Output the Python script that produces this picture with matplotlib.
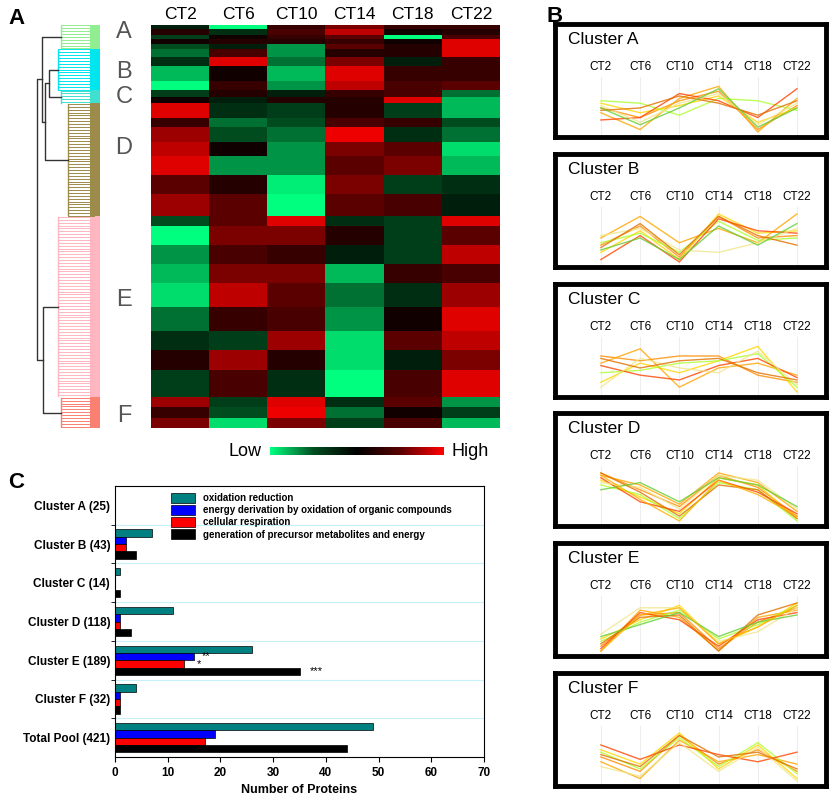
import numpy as np
import matplotlib
matplotlib.use("Agg")
import matplotlib.pyplot as plt
from matplotlib.colors import LinearSegmentedColormap

plt.rcParams['font.family'] = ['Liberation Sans', 'DejaVu Sans']

times = ["CT2", "CT6", "CT10", "CT14", "CT18", "CT22"]
cluster_names = ["A", "B", "C", "D", "E", "F"]
cluster_sizes = [25, 43, 14, 118, 189, 32]

# heatmap segments: (rows, values CT2..CT22)
heat_A = [(4, [-0.2, -1, 0.3, 0.6, 0.3, 0.3]), (6, [0.2, -0.3, 0.4, 0.8, 0.1, 0.2]),
          (5, [-0.4, 0.1, 0.3, 0.5, -1, 0.4]), (5, [0.1, 0.2, 0.2, 0.3, 0.1, 0.9]),
          (5, [-0.5, -0.2, -0.7, 0.5, 0.2, 0.9])]
heat_B = [(8, [-0.6, 0.4, -0.7, 0.2, 0.2, 0.9]), (10, [-0.3, 0.9, -0.6, 0.6, -0.2, 0.3]),
          (15, [-0.8, 0.1, -0.8, 0.9, 0.3, 0.3]), (10, [-1, 0.3, -0.7, 0.8, 0.4, 0.5])]
heat_C = [(7, [-0.4, 0.2, -0.2, 0.3, 0.4, -0.6]), (7, [0.1, -0.2, 0.2, 0.2, 0.9, -0.8])]
heat_D = [(15, [0.9, -0.3, -0.4, 0.2, -0.4, -0.8]), (10, [0.3, -0.6, -0.5, 0.4, 0.3, -0.5]),
          (15, [0.7, -0.5, -0.6, 0.95, -0.3, -0.6]), (15, [0.8, 0.1, -0.7, 0.6, 0.5, -0.9]),
          (20, [0.9, -0.7, -0.7, 0.5, 0.6, -0.8]), (20, [0.5, 0.2, -0.95, 0.6, -0.4, -0.3]),
          (23, [0.7, 0.5, -1, 0.5, 0.4, -0.2])]
heat_E = [(10, [-0.5, 0.5, 0.9, -0.3, -0.4, 0.9]), (20, [-1, 0.6, 0.6, 0.2, -0.4, 0.5]),
          (20, [-0.7, 0.4, 0.3, -0.2, -0.4, 0.8]), (20, [-0.8, 0.6, 0.6, -0.8, 0.3, 0.4]),
          (25, [-0.9, 0.8, 0.5, -0.6, -0.3, 0.7]), (25, [-0.6, 0.3, 0.4, -0.7, 0.1, 0.9]),
          (20, [-0.3, -0.4, 0.7, -0.9, 0.5, 0.8]), (20, [0.2, 0.7, 0.2, -0.9, -0.2, 0.6]),
          (29, [-0.4, 0.4, -0.3, -1, 0.4, 0.9])]
heat_F = [(10, [0.7, -0.4, 0.9, -0.3, 0.5, -0.7]), (12, [0.3, -0.5, 0.95, -0.6, 0.1, -0.4]),
          (10, [0.6, -0.9, 0.6, -0.4, 0.4, -0.8])]
heat_segments = [heat_A, heat_B, heat_C, heat_D, heat_E, heat_F]
dend_colors = ["#90ee90", "#00e5ee", "#40e0d0", "#9c8b4a", "#ffb6c1", "#fa8072"]

# profile lines for panel B
prof_A = [[0.0, -0.4, 0.3, 0.7, -0.9, 0.1], [0.2, -0.2, 0.1, 0.5, -0.6, 0.0], [-0.2, -0.9, 0.4, 0.9, -1.0, 0.4],
          [0.3, 0.2, -0.3, 0.4, 0.3, -0.1], [-0.5, -0.4, 0.6, 0.3, -0.4, 0.8], [0.1, -0.6, 0.2, 0.6, -0.7, 0.2],
          [-0.1, 0.0, 0.5, 0.2, -0.3, 0.3], [0.0, -0.7, 0.0, 0.8, -0.8, 0.0]]
prof_B = [[-0.3, 0.5, -0.8, 0.9, 0.0, 0.1], [-0.6, 0.3, -0.9, 1.0, 0.2, 0.3], [0.0, 0.9, -0.2, 0.4, -0.2, 1.0],
          [-0.2, 0.2, -0.6, 0.7, -0.1, 0.0], [-0.9, 0.1, -1.0, 0.8, 0.3, 0.2], [0.1, 0.4, -0.5, -0.6, -0.2, 0.4],
          [-0.4, 0.6, -0.7, 0.9, 0.1, -0.3], [-0.5, 0.0, -0.9, 0.5, -0.3, 0.6]]
prof_C = [[0.5, 0.3, 0.5, 0.5, -0.3, -0.6], [-0.6, 0.2, -0.2, 0.3, 0.9, -1.0], [0.2, 0.8, -0.8, 0.0, 0.2, -0.3],
          [-0.2, -0.1, 0.2, 0.3, 0.6, -0.8], [0.1, -0.3, -0.5, 0.1, 0.4, -0.4], [-0.8, 0.4, 0.0, -0.2, 0.7, -0.7],
          [0.4, 0.0, 0.3, 0.4, -0.2, -0.5]]
prof_D = [[1.0, 0.3, -0.4, 0.9, 0.4, -0.8], [0.7, 0.0, -0.7, 0.8, 0.5, -0.9], [0.9, 0.5, -0.3, 1.0, 0.6, -0.6],
          [0.5, 0.1, -0.9, 0.6, 0.3, -1.0], [0.8, -0.2, -0.6, 0.7, 0.2, -0.7], [0.6, 0.4, -0.5, 0.9, 0.7, -0.5],
          [1.0, 0.2, -0.8, 0.5, 0.3, -0.9], [0.3, 0.6, -0.2, 0.8, 0.5, -0.4], [0.9, -0.1, -1.0, 0.7, 0.1, -0.8]]
prof_E = [[-0.8, 0.5, 0.6, -0.9, 0.2, 0.8], [-0.5, 0.3, 0.9, -0.7, 0.0, 1.0], [-1.0, 0.7, 0.4, -1.0, 0.4, 0.7],
          [-0.6, 0.2, 0.7, -0.5, 0.1, 0.9], [-0.9, 0.6, 0.3, -0.8, 0.3, 0.6], [-0.3, 0.8, 0.8, -0.6, -0.2, 0.8],
          [-0.7, 0.4, 0.5, -1.0, 0.5, 1.0], [-0.4, 0.1, 0.6, -0.4, 0.2, 0.5], [-1.0, 0.5, 0.8, -0.7, 0.0, 0.9]]
prof_F = [[0.0, -0.6, 0.9, -0.3, 0.3, -0.6], [0.3, -0.3, 1.0, -0.5, 0.5, -0.9], [-0.2, -0.9, 0.7, -0.2, 0.1, -0.3],
          [0.2, -0.5, 0.8, -0.4, 0.6, -0.7], [0.5, -0.1, 0.5, 0.1, -0.2, 0.2], [-0.4, -0.8, 0.6, -0.6, 0.4, -1.0],
          [0.1, -0.4, 0.9, 0.0, 0.2, -0.5]]
profiles = [prof_A, prof_B, prof_C, prof_D, prof_E, prof_F]
line_colors = ["#ff8c00", "#ffd700", "#ffa500", "#adff2f", "#ff4500", "#f0e68c", "#e07000", "#66cc33", "#ffb000"]

# panel C data
bar_categories = ["Cluster A (25)", "Cluster B (43)", "Cluster C (14)", "Cluster D (118)",
                  "Cluster E (189)", "Cluster F (32)", "Total Pool (421)"]
oxidation_reduction = [0, 7, 1, 11, 26, 4, 49]
energy_derivation = [0, 2, 0, 1, 15, 1, 19]
cellular_respiration = [0, 2, 0, 1, 13, 1, 17]
precursor_generation = [0, 4, 1, 3, 35, 1, 44]
series_names = ["oxidation reduction", "energy derivation by oxidation of organic compounds",
                "cellular respiration", "generation of precursor metabolites and energy"]
series_colors = ["#008080", "#0000ff", "#ff0000", "#000000"]

W, H = 832, 800
fig = plt.figure(figsize=(8.32, 8.0), dpi=100)


def fax(x0, y0, x1, y1):
    return fig.add_axes([x0 / W, 1 - y1 / H, (x1 - x0) / W, (y1 - y0) / H])


# ---- Panel A heatmap ----
rows = []
for segs in heat_segments:
    for n, vals in segs:
        for _ in range(n):
            rows.append(vals)
mat = np.array(rows)
cmap = LinearSegmentedColormap.from_list("gr", ["#00ff7f", "#004d20", "#000000", "#5a0000", "#ff0000"])
axh = fax(151, 25, 500, 428)
axh.imshow(mat, aspect="auto", cmap=cmap, vmin=-1, vmax=1, interpolation="nearest")
axh.set_xticks(range(6))
axh.set_xticklabels(times, fontsize=12.5)
axh.xaxis.tick_top()
axh.tick_params(length=0, pad=2)
axh.set_yticks([])
for s in axh.spines.values():
    s.set_visible(False)

# dendrogram (simplified)
axd = fax(35, 25, 100, 428)
axd.set_xlim(0, 100)
axd.set_ylim(len(rows), 0)
axd.axis("off")
starts = np.cumsum([0] + cluster_sizes[:-1])
branch_x = [30, 25, 30, 40, 25, 30]
mids = []
for i, (st, sz) in enumerate(zip(starts, cluster_sizes)):
    c = dend_colors[i]
    axd.add_patch(plt.Rectangle((85, st), 15, sz, color=c, lw=0))
    bx = branch_x[i] + 10
    axd.plot([bx, bx], [st + 1, st + sz - 1], color=c, lw=1)
    for r in range(0, sz, 3):
        axd.plot([bx, 85 + (r % 2) * 5], [st + r + 0.5, st + r + 0.5], color=c, lw=0.7)
    mids.append(st + sz / 2)


def link(y1, y2, x, xa, xb):
    axd.plot([xa, x, x, xb], [y1, y1, y2, y2], color="#333333", lw=1)


link(mids[1], mids[2], 22, branch_x[1] + 10, branch_x[2] + 10)
m12 = (mids[1] + mids[2]) / 2
link(m12, mids[3], 15, 22, branch_x[3] + 10)
m123 = (m12 + mids[3]) / 2
link(mids[0], m123, 10, branch_x[0] + 10, 15)
mtop = (mids[0] + m123) / 2
link(mids[4], mids[5], 12, branch_x[4] + 10, branch_x[5] + 10)
mbot = (mids[4] + mids[5]) / 2
link(mtop, mbot, 3, 10, 12)

label_y = [32, 72, 97, 148, 300, 416]
for name, yy in zip(cluster_names, label_y):
    fig.text(124 / W, 1 - yy / H, name, fontsize=17, color="#555555", ha="center", va="center")

# colorbar
axc = fax(270, 447, 444, 455)
axc.imshow(np.linspace(-1, 1, 200)[None, :], aspect="auto", cmap=cmap)
axc.axis("off")
fig.text(262 / W, 1 - 451 / H, "Low", fontsize=13, ha="right", va="center")
fig.text(452 / W, 1 - 451 / H, "High", fontsize=13, ha="left", va="center")

fig.text(8 / W, 1 - 18 / H, "A", fontsize=16, fontweight="bold", va="center")
fig.text(546 / W, 1 - 16 / H, "B", fontsize=16, fontweight="bold", va="center")
fig.text(8 / W, 1 - 482 / H, "C", fontsize=16, fontweight="bold", va="center")

# ---- Panel B ----
box_tops = [24, 154, 284, 413, 543, 673]
for i, (bt, prof) in enumerate(zip(box_tops, profiles)):
    ax = fax(555, bt, 826, bt + 113)
    ax.set_xlim(-1.17, 5.74)
    ax.set_ylim(-1.21, 3.5)
    ax.set_xticks([]); ax.set_yticks([])
    for s in ax.spines.values():
        s.set_linewidth(3.5)
    for k in range(6):
        ax.plot([k, k], [-1.2, 1.3], color="#eeeeee", lw=0.8)
        ax.text(k, 1.71, times[k], fontsize=8.5, ha="center", va="center")
    for j, p in enumerate(prof):
        ax.plot(range(6), p, color=line_colors[j % len(line_colors)], lw=1.0, alpha=0.8)
    ax.text(-0.85, 2.85, "Cluster " + cluster_names[i], fontsize=12.5, va="center")

# ---- Panel C ----
axb = fax(115, 486, 484, 757)
n = len(bar_categories)
y = np.arange(n)
bh = 0.19
vals = [oxidation_reduction, energy_derivation, cellular_respiration, precursor_generation]
for k, (v, c, nm) in enumerate(zip(vals, series_colors, series_names)):
    axb.barh(y + (k - 1.5) * bh, v, height=bh, color=c, edgecolor="black", lw=0.5, label=nm)
for b in np.arange(n - 1) + 0.5:
    axb.axhline(b, color="#c8f0f8", lw=0.8)
axb.set_ylim(n - 0.5, -0.5)
axb.set_xlim(0, 70)
axb.set_yticks(y)
axb.set_yticklabels(bar_categories, fontsize=8.5, fontweight="bold")
axb.set_yticks(np.arange(n - 1) + 0.5, minor=True)
axb.tick_params(axis="y", which="major", length=0)
axb.tick_params(axis="y", which="minor", length=3)
axb.set_xticks(range(0, 71, 10))
axb.tick_params(axis="x", labelsize=8.5)
for t in axb.get_xticklabels():
    t.set_fontweight("bold")
axb.set_xlabel("Number of Proteins", fontsize=9, fontweight="bold")
axb.text(16.5, 4 - 0.5 * bh, "**", fontsize=8, va="center")
axb.text(15.5, 4 + 0.5 * bh, "*", fontsize=8, va="center")
axb.text(37, 4 + 1.5 * bh, "***", fontsize=8, va="center")
leg = axb.legend(loc="upper right", bbox_to_anchor=(0.93, 1.0), fontsize=7, frameon=False,
                 handlelength=2.5, handleheight=1.2, borderaxespad=0.3, labelspacing=0.2)
for t in leg.get_texts():
    t.set_fontweight("bold")

fig.savefig("out.png", dpi=100)
